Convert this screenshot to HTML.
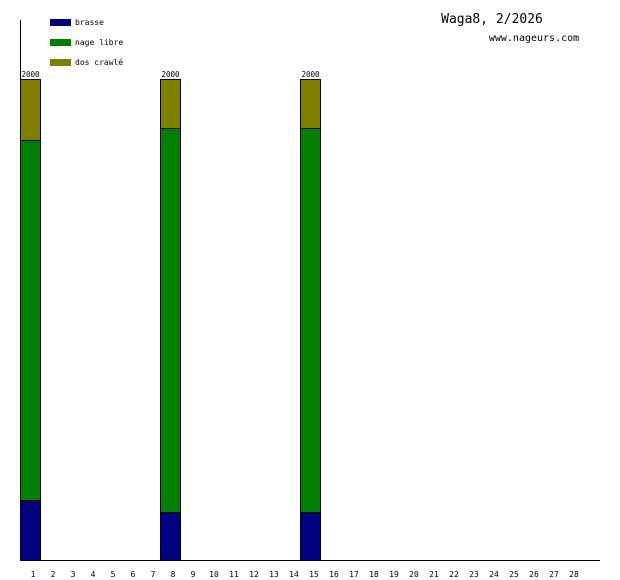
<!DOCTYPE html>
<html><head><style>html,body{margin:0;padding:0;background:#fff}svg{display:block}</style></head><body>
<svg width="620" height="580" xmlns="http://www.w3.org/2000/svg" font-family="'DejaVu Sans Mono','Liberation Mono',monospace">
<rect width="620" height="580" fill="#fff"/>
<g stroke="#000" stroke-width="1">
<rect x="20.5" y="79.5" width="20" height="61" fill="#808000"/>
<rect x="20.5" y="140.5" width="20" height="360" fill="#008000"/>
<rect x="20.5" y="500.5" width="20" height="60" fill="#000080"/>
<rect x="160.5" y="79.5" width="20" height="49" fill="#808000"/>
<rect x="160.5" y="128.5" width="20" height="384" fill="#008000"/>
<rect x="160.5" y="512.5" width="20" height="48" fill="#000080"/>
<rect x="300.5" y="79.5" width="20" height="49" fill="#808000"/>
<rect x="300.5" y="128.5" width="20" height="384" fill="#008000"/>
<rect x="300.5" y="512.5" width="20" height="48" fill="#000080"/>
<line x1="20.5" y1="20" x2="20.5" y2="561"/>
<line x1="20" y1="560.5" x2="600" y2="560.5"/>
</g>
<rect x="50" y="19" width="21" height="7" fill="#000080"/>
<rect x="50" y="39" width="21" height="7" fill="#008000"/>
<rect x="50" y="59" width="21" height="7" fill="#808000"/>
<g font-size="8" fill="#000">
<text x="75" y="25">brasse</text>
<text x="75" y="45">nage libre</text>
<text x="75" y="65">dos crawlé</text>
<text x="30.5" y="77" text-anchor="middle" font-size="7.5">2000</text>
<text x="170.5" y="77" text-anchor="middle" font-size="7.5">2000</text>
<text x="310.5" y="77" text-anchor="middle" font-size="7.5">2000</text>
</g>
<text x="492" y="23" text-anchor="middle" font-size="13">Waga8, 2/2026</text>
<text x="534" y="41" text-anchor="middle" font-size="10">www.nageurs.com</text>
<g font-size="8" text-anchor="middle" fill="#000">
<text x="33" y="577">1</text><text x="53" y="577">2</text><text x="73" y="577">3</text><text x="93" y="577">4</text><text x="113" y="577">5</text><text x="133" y="577">6</text><text x="153" y="577">7</text><text x="173" y="577">8</text><text x="193" y="577">9</text><text x="214" y="577">10</text><text x="234" y="577">11</text><text x="254" y="577">12</text><text x="274" y="577">13</text><text x="294" y="577">14</text><text x="314" y="577">15</text><text x="334" y="577">16</text><text x="354" y="577">17</text><text x="374" y="577">18</text><text x="394" y="577">19</text><text x="414" y="577">20</text><text x="434" y="577">21</text><text x="454" y="577">22</text><text x="474" y="577">23</text><text x="494" y="577">24</text><text x="514" y="577">25</text><text x="534" y="577">26</text><text x="554" y="577">27</text><text x="574" y="577">28</text>
</g>
</svg>
</body></html>
